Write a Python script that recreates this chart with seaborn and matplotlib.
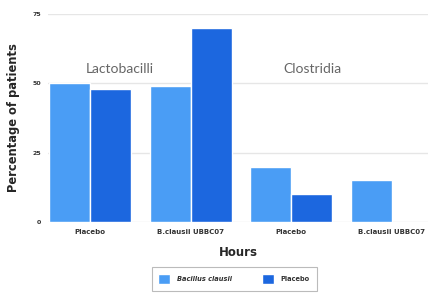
import numpy as np
import pandas as pd
import matplotlib.pyplot as plt
import seaborn as sns

# data
groups = ['Placebo', 'B.clausii UBBC07', 'Placebo', 'B.clausii UBBC07']
group_ids = ['lacto_placebo', 'lacto_bc', 'clos_placebo', 'clos_bc']
bacillus = [50, 49, 20, 15]
placebo = [48, 70, 10, 0]
series_names = ['Bacillus clausii', 'Placebo']
colors = ['#4A9DF5', '#1C67DF']

df = pd.DataFrame({
    'group': group_ids * 2,
    'value': bacillus + placebo,
    'series': [series_names[0]] * 4 + [series_names[1]] * 4
})

sns.set_style('white')
plt.rcParams['font.family'] = ['DejaVu Sans']

fig = plt.figure(figsize = (4.28, 2.95), dpi = 100)
ax = fig.add_axes([0.112, 0.247, 0.888, 0.706])

sns.barplot(data = df, x = 'group', y = 'value', hue = 'series', palette = colors, saturation = 1,
            width = 0.82, gap = 0.01, ax = ax, legend = True)

ax.set_ylim(0, 75)
ax.set_xlim(-0.42, 3.36)
ax.set_yticks([0, 25, 50, 75])
ax.set_yticklabels(['0', '25', '50', '75'], fontsize = 4.5, fontweight = 'bold', color = '#333333')
ax.set_xticks(range(4))
ax.set_xticklabels(groups, fontsize = 5, fontweight = 'bold', color = '#333333')
ax.tick_params(axis = 'both', length = 0, pad = 5)
ax.yaxis.grid(True, color = '#e6e6e6', linewidth = 1)
ax.set_axisbelow(True)
for s in ax.spines.values():
    s.set_visible(False)

ax.set_ylabel('Percentage of patients', fontsize = 8.3, fontweight = 'bold', labelpad = 9)
ax.set_xlabel('Hours', fontsize = 8.5, fontweight = 'bold', labelpad = 8)

ax.text(0.29, 55, 'Lactobacilli', fontsize = 10, color = '#666666', ha = 'center', va = 'center',
        family = ['Lato', 'DejaVu Sans'])
ax.text(2.21, 55, 'Clostridia', fontsize = 10, color = '#666666', ha = 'center', va = 'center',
        family = ['Lato', 'DejaVu Sans'])

leg = ax.legend(loc = 'center', bbox_to_anchor = (0.49, -0.274), ncol = 2, frameon = True,
                fancybox = False, edgecolor = '#aaaaaa', fontsize = 4.8, handlelength = 1.8, handleheight = 2.0,
                columnspacing = 4.5, borderpad = 1.0, handletextpad = 1.0)
leg.get_frame().set_linewidth(0.8)
for t in leg.get_texts():
    t.set_fontweight('bold')
    t.set_color('#333333')
leg.get_texts()[0].set_fontstyle('italic')

fig.savefig('out.png', dpi = 100)
